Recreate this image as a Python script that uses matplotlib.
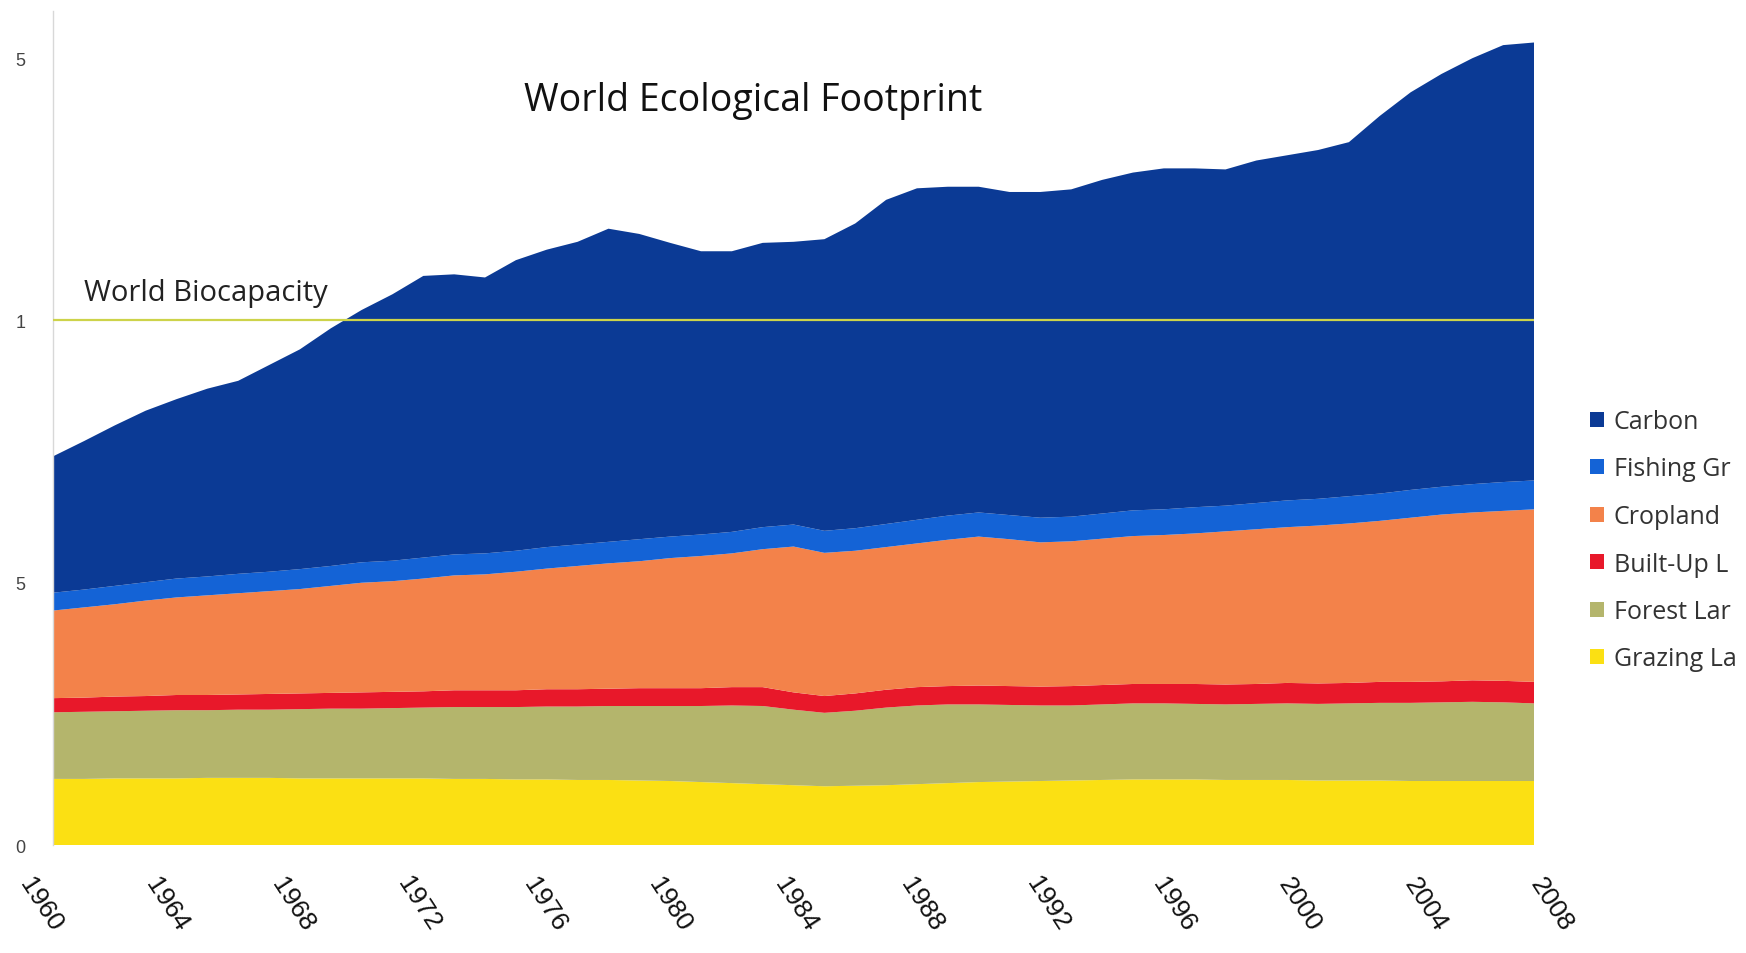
import numpy as np
import matplotlib.pyplot as plt
from matplotlib.transforms import ScaledTranslation

# ===== data (global hectares per person) =====
years = np.arange(1960, 2009)

grazing = [0.126, 0.126, 0.127, 0.127, 0.127, 0.128, 0.128, 0.128, 0.127, 0.127,
           0.127, 0.127, 0.127, 0.126, 0.126, 0.125, 0.125, 0.124, 0.124, 0.123,
           0.122, 0.120, 0.118, 0.116, 0.114, 0.112, 0.113, 0.114, 0.116, 0.118,
           0.120, 0.121, 0.122, 0.123, 0.124, 0.125, 0.125, 0.125, 0.124, 0.124,
           0.124, 0.123, 0.123, 0.123, 0.122, 0.122, 0.122, 0.122, 0.122]

forest = [0.127, 0.128, 0.128, 0.129, 0.130, 0.129, 0.130, 0.130, 0.132, 0.133,
          0.133, 0.134, 0.135, 0.137, 0.137, 0.138, 0.139, 0.140, 0.141, 0.142,
          0.143, 0.145, 0.148, 0.149, 0.144, 0.140, 0.143, 0.148, 0.150, 0.150,
          0.148, 0.146, 0.144, 0.143, 0.144, 0.145, 0.145, 0.144, 0.144, 0.145,
          0.146, 0.146, 0.147, 0.148, 0.149, 0.150, 0.151, 0.150, 0.148]

built_up = [0.027, 0.027, 0.028, 0.028, 0.029, 0.029, 0.029, 0.030, 0.030, 0.030,
            0.031, 0.031, 0.031, 0.032, 0.032, 0.032, 0.033, 0.033, 0.033, 0.034,
            0.034, 0.034, 0.035, 0.036, 0.033, 0.032, 0.033, 0.034, 0.035, 0.035,
            0.036, 0.036, 0.036, 0.037, 0.037, 0.037, 0.037, 0.038, 0.038, 0.038,
            0.039, 0.039, 0.039, 0.040, 0.040, 0.040, 0.041, 0.041, 0.041]

cropland = [0.167, 0.172, 0.176, 0.182, 0.186, 0.190, 0.193, 0.196, 0.199, 0.204,
            0.209, 0.211, 0.215, 0.219, 0.221, 0.226, 0.230, 0.235, 0.239, 0.242,
            0.248, 0.252, 0.255, 0.263, 0.278, 0.273, 0.272, 0.272, 0.274, 0.279,
            0.284, 0.280, 0.275, 0.276, 0.279, 0.282, 0.284, 0.287, 0.292, 0.295,
            0.297, 0.301, 0.304, 0.307, 0.313, 0.318, 0.320, 0.324, 0.329]

fishing = [0.034, 0.034, 0.035, 0.035, 0.036, 0.036, 0.037, 0.037, 0.038, 0.038,
           0.039, 0.039, 0.040, 0.040, 0.040, 0.040, 0.041, 0.041, 0.041, 0.042,
           0.041, 0.041, 0.041, 0.042, 0.042, 0.042, 0.043, 0.044, 0.045, 0.046,
           0.046, 0.046, 0.047, 0.047, 0.048, 0.049, 0.049, 0.050, 0.049, 0.050,
           0.051, 0.051, 0.052, 0.052, 0.053, 0.053, 0.054, 0.055, 0.055]

carbon = [0.260, 0.283, 0.306, 0.327, 0.342, 0.358, 0.368, 0.394, 0.419, 0.453,
          0.481, 0.508, 0.537, 0.534, 0.526, 0.554, 0.567, 0.577, 0.597, 0.582,
          0.560, 0.540, 0.535, 0.542, 0.539, 0.556, 0.581, 0.618, 0.632, 0.627,
          0.621, 0.616, 0.621, 0.624, 0.636, 0.644, 0.650, 0.646, 0.641, 0.653,
          0.658, 0.665, 0.675, 0.720, 0.758, 0.787, 0.812, 0.833, 0.835]

biocapacity = 1.0

names = ["Grazing Land", "Forest Land", "Built-Up Land", "Cropland",
         "Fishing Grounds", "Carbon"]
# the legend is cut off at the right edge in the original, only this much shows
legend_text = ["Carbon", "Fishing Gr", "Cropland", "Built-Up L", "Forest Lar", "Grazing La"]
colors = ["#fbe013", "#b4b56c", "#e8182a", "#f3824a", "#1463d6", "#0b3a95"]

xtick_years = years[::4]
ytick_vals = [0, 0.5, 1.0, 1.5]
ytick_text = ["0", "5", "1", "5"]

# ===== plot =====
fig = plt.figure(figsize=(17.46, 9.54), dpi=100)
ax = fig.add_axes([0.0304, 0.1132, 0.8482, 0.8742])

polys = ax.stackplot(years, grazing, forest, built_up, cropland, fishing, carbon,
                     colors=colors, labels=names, linewidth=0)

ax.axhline(biocapacity, color="#cdd34a", lw=1.6, zorder=3)
ax.text(1961.0, 1.053, "World Biocapacity", fontsize=21, family="Open Sans",
        color="#222222", va="center", ha="left")
ax.text(1982.7, 1.421, "World Ecological Footprint", fontsize=27, family="Open Sans",
        color="#111111", va="center", ha="center")

ax.set_xlim(1960, 2008)
ax.set_ylim(0, 1.59)

ax.set_xticks(xtick_years)
ax.set_xticklabels([str(y) for y in xtick_years], rotation=-57, ha="center",
                   va="center", rotation_mode="anchor", fontsize=19,
                   family="Liberation Sans", color="#111111")
ax.tick_params(axis="x", length=0, pad=42)
# labels drift a little to the right of their ticks in the original
for yr, lbl in zip(xtick_years, ax.get_xticklabels()):
    dx = (-12 + (yr - 1960) * 29 / 48) / 100
    lbl.set_transform(lbl.get_transform() + ScaledTranslation(dx, 0, fig.dpi_scale_trans))

ax.set_yticks(ytick_vals)
ax.set_yticklabels(ytick_text, fontsize=13, family="Liberation Sans", color="#444444")
ax.tick_params(axis="y", length=0, pad=20)

for s in ["top", "right", "bottom"]:
    ax.spines[s].set_visible(False)
ax.spines["left"].set_color("#d8d8d8")
ax.spines["left"].set_linewidth(1.0)

ax.legend(polys[::-1], legend_text, loc="upper left",
          bbox_to_anchor=(1590 / 1746, (954 - 410) / 954),
          bbox_transform=fig.transFigure, frameon=False,
          prop={"family": "Open Sans", "size": 18},
          handlelength=0.55, handleheight=0.55, handletextpad=0.4,
          labelspacing=0.9, borderpad=0, borderaxespad=0, labelcolor="#333333")

fig.savefig("out.png", dpi=100)
